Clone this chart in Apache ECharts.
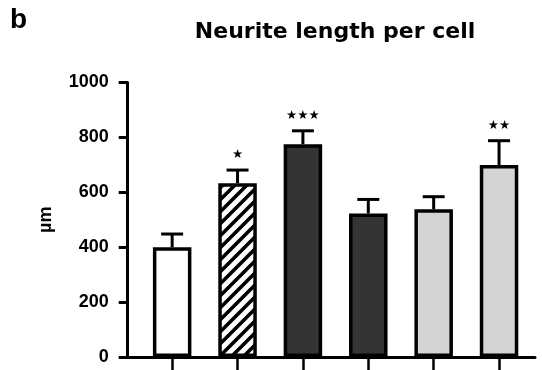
<!DOCTYPE html>
<html>
<head>
<meta charset="utf-8">
<script src="https://cdn.jsdelivr.net/npm/echarts@6/dist/echarts.min.js"></script>
<style>html,body{margin:0;padding:0;background:#fff}#c{width:542px;height:370px}</style>
</head>
<body>
<div id="c"></div>
<script>
var categories = [1, 2, 3, 4, 5, 6];
var means = [400, 633, 775, 523, 538, 699];
var errors = [48, 48, 49, 51, 46, 89];
var stars = ["", "★", "★★★", "", "", "★★"];
var yTicks = [0, 200, 400, 600, 800, 1000];

// hatch pattern
var pc = document.createElement('canvas');
pc.width = 12; pc.height = 12;
var pctx = pc.getContext('2d');
pctx.fillStyle = '#fff'; pctx.fillRect(0, 0, 12, 12);
pctx.strokeStyle = '#000'; pctx.lineWidth = 3.6;
pctx.beginPath();
pctx.moveTo(-2, 14); pctx.lineTo(14, -2);
pctx.moveTo(-8, 8); pctx.lineTo(8, -8);
pctx.moveTo(4, 20); pctx.lineTo(20, 4);
pctx.stroke();

var fills = ['#ffffff', {image: pc, repeat: 'repeat'}, '#343434', '#343434', '#d4d4d4', '#d4d4d4'];

var barData = categories.map(function (c, i) {
  return {value: [c, means[i]], itemStyle: {color: fills[i], borderColor: '#000', borderWidth: 3.5}};
});
var errData = categories.map(function (c, i) {
  return [c, means[i], means[i] + errors[i], i];
});

var chart = echarts.init(document.getElementById('c'));
chart.setOption({
  animation: false,
  grid: {left: 127.7, right: 7, top: 82.5, bottom: 13},
  xAxis: {
    type: 'value', min: 0.32, max: 6.55,
    splitLine: {show: false},
    axisLine: {show: true, lineStyle: {color: '#000', width: 3}},
    axisTick: {show: true, customValues: categories, length: 14, lineStyle: {color: '#000', width: 2.5}},
    axisLabel: {show: false}
  },
  yAxis: {
    type: 'value', min: 0, max: 1000, interval: 200,
    name: 'µm', nameLocation: 'middle', nameGap: 73, nameRotate: 90,
    nameTextStyle: {fontFamily: 'Liberation Sans, Arial', fontWeight: 'bold', fontSize: 18, color: '#000'},
    splitLine: {show: false},
    axisLine: {show: true, lineStyle: {color: '#000', width: 3}},
    axisTick: {show: true, length: 9, lineStyle: {color: '#000', width: 3}},
    axisLabel: {
      margin: 19, color: '#000', fontFamily: 'Liberation Sans, Arial', fontWeight: 'bold', fontSize: 18,
      formatter: function (v) { return yTicks.indexOf(v) >= 0 ? String(v) : ''; }
    }
  },
  series: [
    {
      type: 'custom', z: 1,
      renderItem: function (params, api) {
        var top = api.coord([api.value(0), api.value(2)]);
        var base = api.coord([api.value(0), api.value(1)]);
        var i = api.value(3);
        var children = [
          {type: 'line', shape: {x1: top[0], y1: base[1], x2: top[0], y2: top[1]}, style: {stroke: '#000', lineWidth: 3}},
          {type: 'line', shape: {x1: top[0] - 11, y1: top[1], x2: top[0] + 11, y2: top[1]}, style: {stroke: '#000', lineWidth: 3}}
        ];
        if (stars[i]) {
          children.push({type: 'text', style: {x: top[0], y: top[1] - 15, text: stars[i], textAlign: 'center', textVerticalAlign: 'middle', fontSize: 12.5, fontFamily: 'DejaVu Sans', fill: '#000'}});
        }
        return {type: 'group', children: children};
      },
      encode: {x: 0, y: 2},
      data: errData
    },
    {
      type: 'bar', z: 2, barWidth: 38.5,
      data: barData
    }
  ],
  graphic: [
    {type: 'text', left: 10, top: 6, style: {text: 'b', fontSize: 28, fontWeight: 'bold', fontFamily: 'Liberation Sans, Arial', fill: '#000'}},
    {type: 'text', x: 335, y: 32.5, style: {text: 'Neurite length per cell', fontSize: 22, fontWeight: 'bold', fontFamily: 'DejaVu Sans', fill: '#000', textAlign: 'center', textVerticalAlign: 'middle'}}
  ]
});
</script>
</body>
</html>
